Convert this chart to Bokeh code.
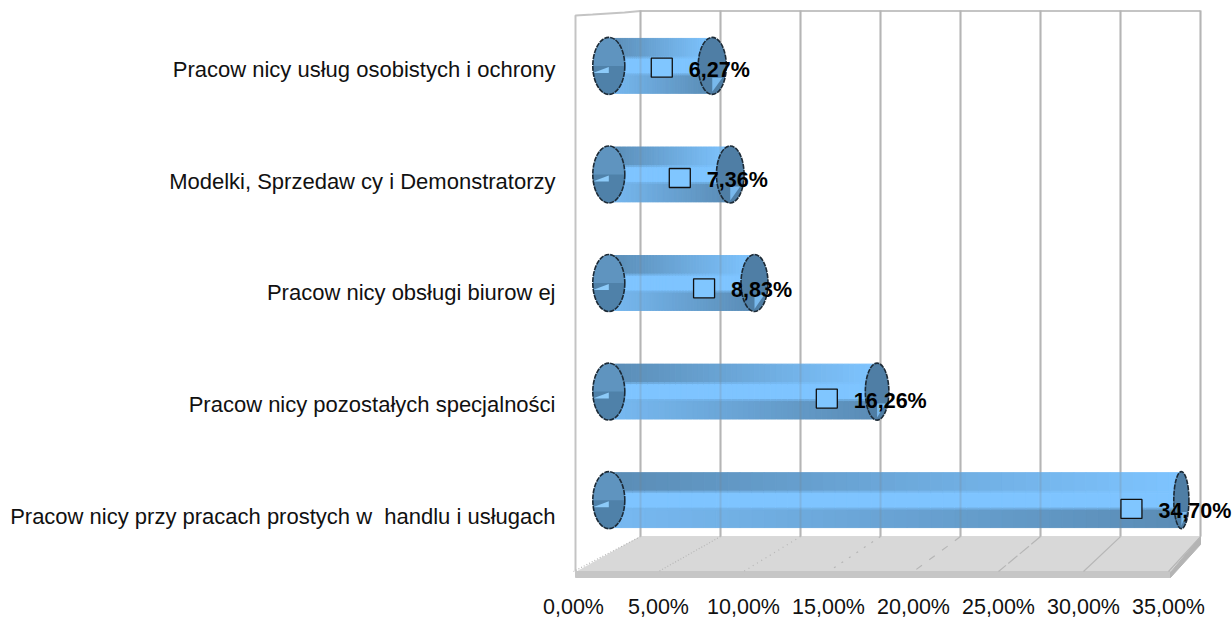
from math import cos, sin, pi
from bokeh.embed import file_html
from bokeh.resources import INLINE
from bokeh.plotting import figure
from bokeh.models import Range1d, FixedTicker, ColumnDataSource
from bokeh.core.properties import value

categories = ["Pracow nicy przy pracach prostych w \u00a0handlu i usługach",
              "Pracow nicy pozostałych specjalności",
              "Pracow nicy obsługi biurow ej",
              "Modelki, Sprzedaw cy i Demonstratorzy",
              "Pracow nicy usług osobistych i ochrony"]
shares = [34.70, 16.26, 8.83, 7.36, 6.27]
share_labels = ["34,70%", "16,26%", "8,83%", "7,36%", "6,27%"]
x_ticks = [0, 5, 10, 15, 20, 25, 30, 35]
x_tick_labels = ["0,00%", "5,00%", "10,00%", "15,00%", "20,00%", "25,00%", "30,00%", "35,00%"]

W, H = 1232, 621
L, T, B = 565, 0, 581
R = W
BAR_KX, BAR_KY = 16.5, 108.75

def xr(x0, k):   # range whose unit is k px, with unit 0 at page px x0
    return Range1d((L - x0) / k, (R - x0) / k)
def yr(y0, k):   # range whose unit is k px upward, with unit 0 at page px y0
    return Range1d((y0 - B) / k, (y0 - T) / k)

p = figure(width=W, height=H, output_backend="svg", toolbar_location=None,
           x_range=xr(573, 17), y_range=yr(517, 112),
           min_border_left=L, min_border_right=0, min_border_top=T,
           min_border_bottom=H - B, outline_line_color=None,
           background_fill_color="white", border_fill_color="white")
p.extra_x_ranges = {"back": xr(640, 16), "bar": xr(608.3, BAR_KX), "mark": xr(557.7, 16.52),
                    "px": Range1d(L, R)}
p.extra_y_ranges = {"bar": yr(500.5, BAR_KY), "mark": yr(509.3, 110.5), "px": Range1d(B, T)}

p.grid.visible = False
p.xaxis.ticker = FixedTicker(ticks=x_ticks)
p.xaxis.major_label_overrides = dict(zip(x_ticks, x_tick_labels))
p.yaxis.ticker = FixedTicker(ticks=list(range(len(categories))))
p.yaxis.major_label_overrides = dict(enumerate(categories))
for ax, standoff in ((p.xaxis, 14), (p.yaxis, 10)):
    ax.axis_line_color = None
    ax.major_tick_line_color = None
    ax.minor_tick_line_color = None
    ax.major_tick_out = 0
    ax.major_tick_in = 0
    ax.minor_tick_out = 0
    ax.minor_tick_in = 0
    ax.major_label_standoff = standoff
    ax.major_label_text_font = "Liberation Sans"
    ax.major_label_text_color = "#111111"
p.xaxis.major_label_text_font_size = "21.5px"
p.yaxis.major_label_text_font_size = "22px"

GRID = "#c4c4c4"
kw = dict(x_range_name="px", y_range_name="px")
bk = dict(x_range_name="bar", y_range_name="bar")
# floor
p.patch([575, 640, 1200, 1170, 575], [573, 537, 537, 573, 573], color="#d8d8d8", **kw)
p.patch([575, 1170, 1170, 575], [572, 572, 578, 578], color="#c6c6c6", **kw)
p.patch([1170, 1200, 1200, 1170], [573, 537, 545, 578], color="#b4b4b4", **kw)
# walls
p.line([575, 575, 592, 624, 640, 1200], [572, 15, 14, 12, 10.5, 10.5], line_color=GRID, line_width=2, **kw)
# back-wall grid and floor grid
p.segment(x_ticks, [537] * 8, x_ticks, [10] * 8, line_color=GRID, line_width=2,
          x_range_name="back", y_range_name="px")
dashes = ["1 2", "1 2", "1 4", "2 7", "7 9", "12 3", "solid", "solid"]
for t, d in zip(x_ticks, dashes):
    p.line([640 + 16 * t, 573 + 17 * t], [537, 572], line_color="#b6b6b6", line_width=1.2, line_dash=d, **kw)

# cylinder bodies: colour runs along each bar, in three stripes across it
DARK, LIGHT, MID = (90, 140, 181), (126, 196, 255), (110, 170, 222)
def mix(a, b, t):
    return tuple(a[i] + (b[i] - a[i]) * t for i in range(3))
def hexc(c):
    return "#%02x%02x%02x" % tuple(int(round(x)) for x in c)
q = dict(left=[], right=[], top=[], bottom=[], color=[])
STEPS = 48
for i, v in enumerate(shares):
    for s in range(STEPS):
        t = (s + .5) / STEPS
        a, b = v * s / STEPS, v * (s + 1) / STEPS
        for top, bot, col in ((27.5, 9, mix(DARK, LIGHT, t)),
                              (9, 7, mix(mix(DARK, LIGHT, t), LIGHT, .5)),
                              (7, -8, LIGHT),
                              (-8, -10, mix(mix(MID, DARK, t), LIGHT, .5)),
                              (-10, -27.5, mix(mix(LIGHT, MID, .4), DARK, t))):
            q["left"].append(a); q["right"].append(b)
            q["top"].append(i + top / BAR_KY); q["bottom"].append(i + bot / BAR_KY)
            q["color"].append(hexc(col))
p.quad(left="left", right="right", top="top", bottom="bottom", fill_color="color", line_color="color",
       line_width=1, source=ColumnDataSource(q), **bk)
# grid faintly through the bars
p.segment(x_ticks, [537] * 8, x_ticks, [10] * 8, line_color="#808080", line_width=2, line_alpha=.22,
          x_range_name="back", y_range_name="px")

# caps
idx = list(range(len(shares)))
widths = [31 - .457 * v for v in shares]
caps = ColumnDataSource(dict(x=shares, y=idx, w=widths))
base = ColumnDataSource(dict(x=[0] * 5, y=idx))
p.ellipse("x", "y", width=32, height=57, width_units="screen", height_units="screen", source=base,
          fill_color="#5f94bf", line_color=None, **bk)
p.ellipse("x", "y", width="w", height=57, width_units="screen", height_units="screen", source=caps,
          fill_color="#4f7ea5", line_color=None, **bk)
# lower half of the near cap is darker; small highlights on both caps
xs, ys = [], []
for i in idx:
    xs.append([16 * cos(a * pi / 24) / BAR_KX for a in range(25)])
    ys.append([i - 28.5 * sin(a * pi / 24) / BAR_KY for a in range(25)])
p.patches(xs, ys, fill_color="#4f81a9", line_color=None, **bk)
p.patches([[-16 / BAR_KX, 0, 0] for i in idx],
          [[i - 7 / BAR_KY, i - 7 / BAR_KY, i - 1 / BAR_KY] for i in idx],
          fill_color="#8ccaf8", line_color=None, **bk)
p.patches([[v, v + w * .36 / BAR_KX, v] for v, w in zip(shares, widths)],
          [[i - 12 / BAR_KY, i - 12 / BAR_KY, i - 26 / BAR_KY] for i in idx],
          fill_color="#78b8ec", line_color=None, **bk)
p.ellipse("x", "y", width=32, height=57, width_units="screen", height_units="screen", source=base,
          fill_color=None, line_color="#1c2a36", line_width=1.6, line_dash="5 1", **bk)
p.ellipse("x", "y", width="w", height=57, width_units="screen", height_units="screen", source=caps,
          fill_color=None, line_color="#1c2a36", line_width=1.6, line_dash="5 1", **bk)

# markers and labels
mk = ColumnDataSource(dict(x=shares, y=idx, lab=share_labels))
p.rect("x", "y", width=21, height=19, width_units="screen", height_units="screen", source=mk,
       fill_color="#80c6ff", line_color="#101010", line_width=1.3, x_range_name="mark", y_range_name="mark")
p.text("x", "y", text="lab", source=mk, x_offset=27, y_offset=2, text_font=value("Liberation Sans"),
       text_font_style="bold", text_font_size="21.5px", text_color="black", text_align="left",
       text_baseline="middle", x_range_name="mark", y_range_name="mark")

open("out.html", "w").write(file_html(p, INLINE))
